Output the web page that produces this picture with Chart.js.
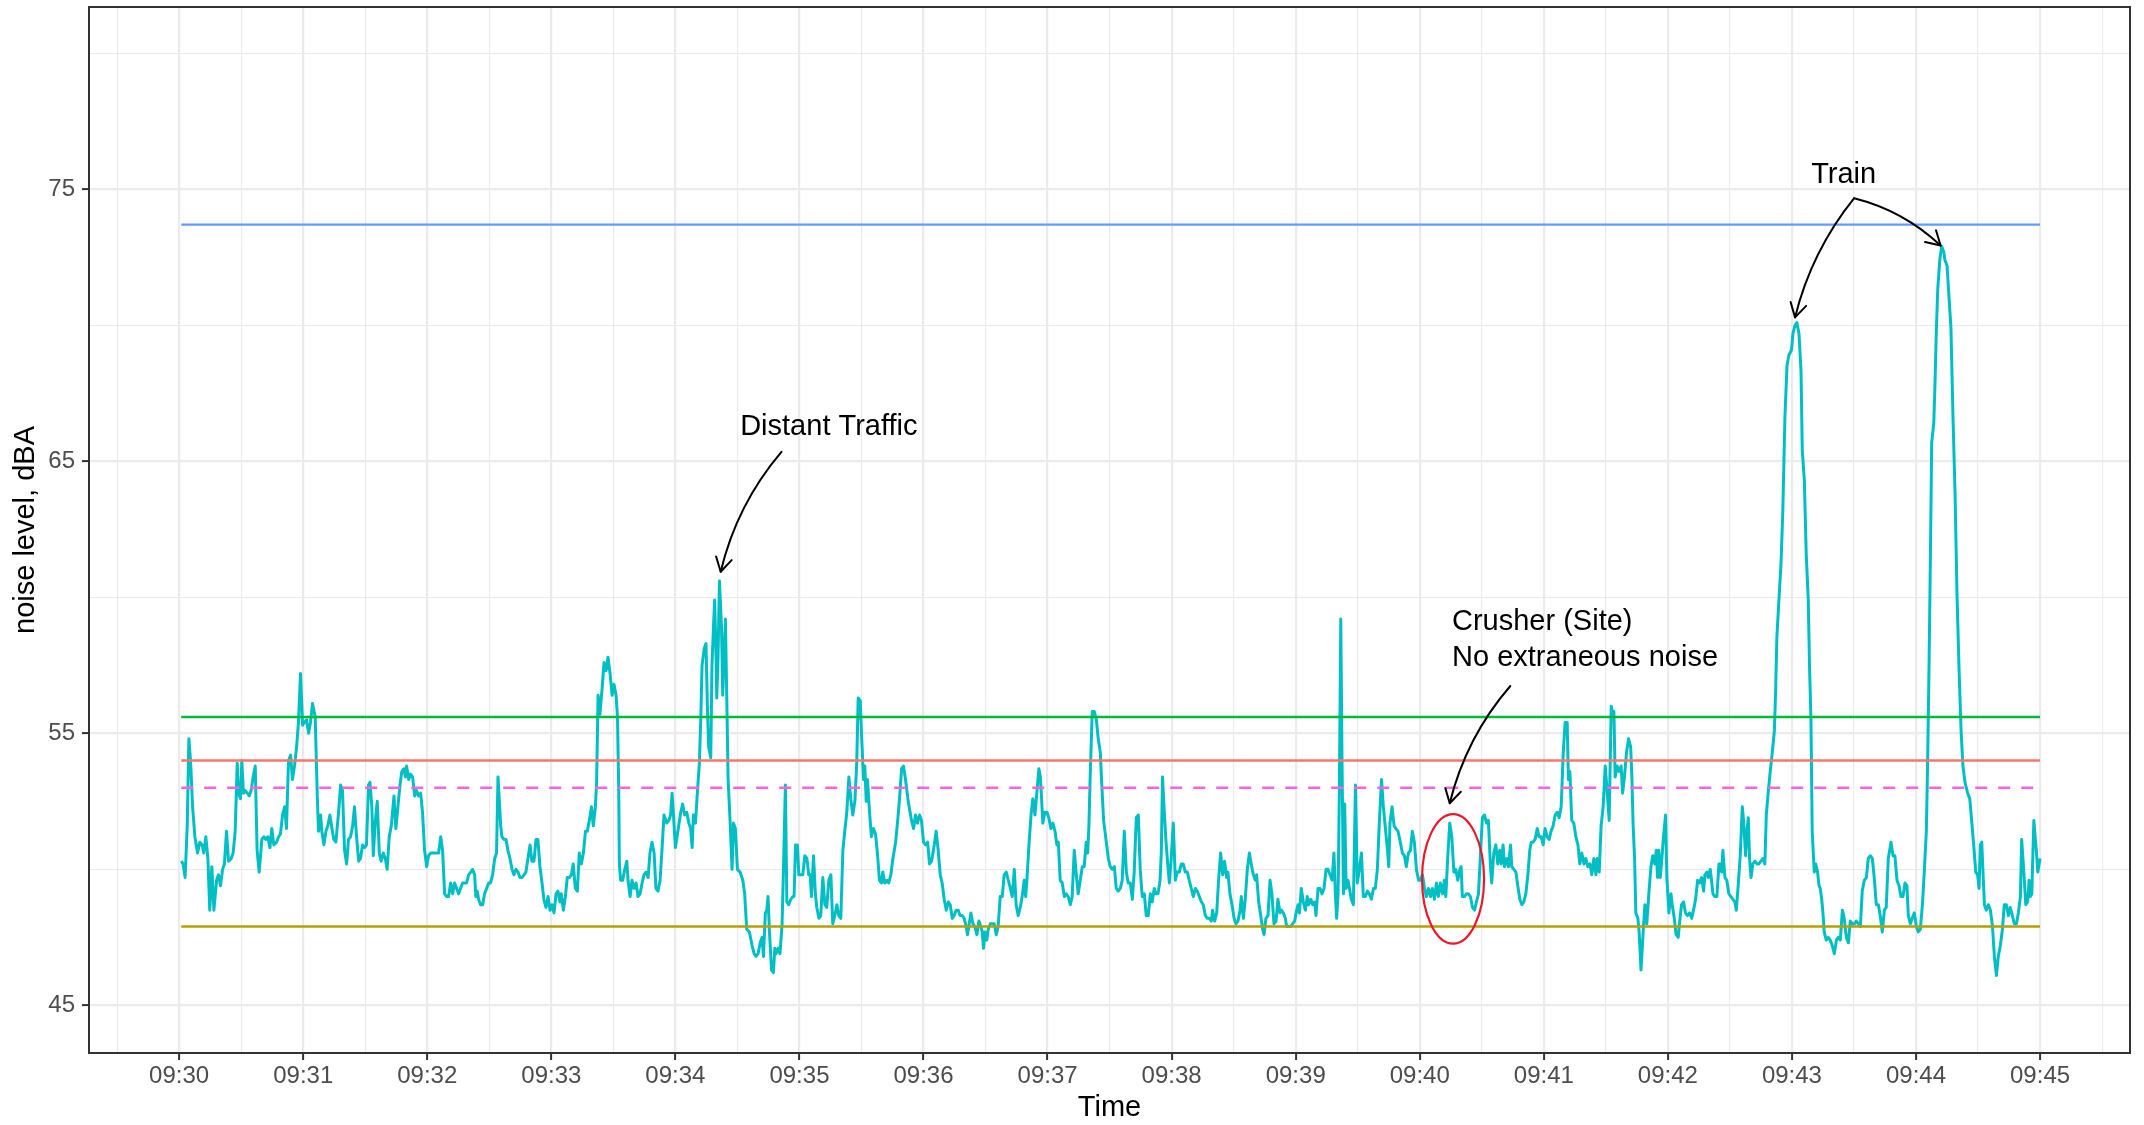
<!DOCTYPE html>
<html>
<head>
<meta charset="utf-8">
<script src="https://cdn.jsdelivr.net/npm/chart.js@4.4.1/dist/chart.umd.min.js"></script>
<style>
  html, body { margin: 0; padding: 0; background: #ffffff; }
  canvas { display: block; }
</style>
</head>
<body>
<canvas id="noiseChart" width="2144" height="1125"></canvas>
<script>
// Sound level log, 09:30–09:45. Each entry: [seconds after 09:30:00, level in dBA].
const log0930 = [[1,50.3],[1.9,50.2],[2.9,49.7],[3.9,51.6],[4.7,54.8],[5.5,54.0],[6.5,52.3],[7.6,51.2],[8.9,50.6],[10,51.0],[11.1,50.9],[11.9,50.6],[12.9,51.2],[13.9,50.4],[14.8,48.5],[15.8,50.1],[16.8,48.5],[18.1,49.6],[19,49.8],[20,49.4],[21,50.0],[21.9,50.2],[22.9,51.4],[23.9,50.3],[25.2,50.4],[26.1,50.6],[27.1,51.4],[28.1,53.9],[28.7,52.8],[29.7,52.6],[30.3,54.0],[31.1,52.8],[31.9,52.9],[32.9,52.8],[33.9,52.7],[34.8,52.9],[35.8,53.4],[36.8,53.8],[37.7,50.7],[38.7,49.9],[40,51.1],[41,51.2],[41.9,51.1],[42.9,51.2],[43.9,50.8],[44.8,51.5],[45.8,50.9],[47.1,51.0],[48.1,51.2],[49,51.3],[50,52.0],[51,52.3],[51.9,51.5],[52.9,54.0],[53.9,54.2],[54.8,53.3],[55.8,53.8],[56.8,54.5],[57.7,55.4],[58.7,57.2],[59.7,55.3],[60.6,55.4],[61.6,55.5],[62.6,55.0],[63.5,55.4],[64.5,56.1],[65.8,55.6],[66.8,52.7],[67.4,51.4],[68.4,52.0],[69,51.4],[70,50.9],[71,51.4],[71.9,51.6],[72.9,52.0],[73.9,51.5],[74.8,51.1],[75.8,51.0],[77.1,52.1],[78.1,53.1],[79,52.9],[80,50.7],[81,50.2],[81.9,51.1],[82.9,51.2],[83.9,51.6],[84.8,52.3],[85.8,51.2],[86.8,50.3],[87.7,50.4],[88.7,50.9],[89.7,50.8],[90.6,50.9],[91.6,53.1],[92.3,53.2],[93.2,52.3],[93.9,50.5],[94.8,51.7],[95.8,52.5],[96.8,50.6],[97.7,50.3],[98.7,50.6],[99.7,50.4],[100.6,50.0],[101.6,51.2],[102.6,51.6],[103.9,52.7],[104.8,51.5],[105.8,52.3],[106.8,53.1],[107.7,53.6],[108.7,53.7],[109.4,53.4],[110,53.8],[111,53.3],[111.9,53.5],[112.9,53.4],[113.9,52.7],[114.8,52.9],[115.8,52.7],[116.8,52.8],[117.7,52.1],[118.7,50.7],[119.7,50.1]];

const log0932 = [[120.6,50.5],[121.6,50.6],[122.6,50.6],[123.5,50.6],[124.5,50.6],[125.5,50.6],[126.5,51.2],[127.4,50.7],[128.4,49.1],[129.4,49.0],[130.3,49.0],[131.3,49.5],[132.3,49.1],[133.2,49.5],[134.2,49.3],[135.2,49.1],[136.1,49.3],[137.1,49.5],[138.1,49.5],[139,49.5],[140,49.8],[141,49.9],[141.9,50.0],[142.9,49.8],[143.5,49.0],[144.2,49.2],[144.8,48.9],[145.8,48.7],[146.8,48.7],[147.7,49.1],[148.7,49.3],[149.7,49.5],[150.6,49.5],[151.6,49.8],[152.6,50.4],[153.5,50.6],[154.2,53.4],[154.8,52.6],[155.5,51.6],[156.1,51.2],[157.1,51.1],[158.1,51.1],[159,50.7],[160,50.4],[161,50.0],[161.9,49.8],[162.9,50.0],[163.9,49.9],[164.8,49.7],[165.8,49.7],[166.8,49.8],[167.7,49.9],[168.7,50.4],[169.7,50.9],[170.6,50.3],[171.6,50.3],[172.6,51.1],[173.5,51.1],[174.5,50.1],[175.5,49.5],[176.4,48.9],[177.4,48.6],[178.4,49.0],[179.4,48.5],[180.3,48.7],[181.3,48.4],[182.3,49.1],[183.2,49.2],[184.2,48.8],[184.8,49.1],[185.8,48.5],[186.8,49.0],[187.7,49.7],[188.7,49.7],[189.7,49.8],[190.6,50.2],[191.6,49.3],[192.6,49.2],[193.5,50.6],[194.5,50.2],[195.5,50.6],[196.5,51.4],[197.4,51.4],[198.4,51.8],[199.4,52.3],[200.3,51.6],[201.3,52.3],[201.9,53.2],[202.6,56.4],[203.5,55.7],[204.5,56.6],[205.5,57.6],[206.5,57.3],[207.4,57.8],[208.4,57.2],[209.4,56.4],[210.3,56.8],[211.3,56.4],[212,55.6],[212.6,52.9],[212.9,50.2],[213.5,49.6],[214.5,49.6],[215.5,50.0],[216.5,50.3],[217.1,49.6],[218.1,49.0],[219,49.6],[220,49.3],[221,49.5],[221.9,49.0],[222.9,49.1],[223.9,49.5],[224.8,49.8],[225.8,49.9],[226.8,49.7],[227.7,50.6],[228.7,51.0],[229.7,50.6],[230.6,49.3],[231.6,49.2],[232.6,49.6],[233.5,50.7],[234.5,52.0]];

const log0934 = [[235.8,51.7],[236.8,51.8],[237.7,52.0],[238.4,52.8],[239,52.1],[240,50.8],[240.6,51.1],[241.6,51.6],[242.6,52.1],[243.5,52.4],[244.5,52.0],[245.5,52.1],[246.5,51.7],[247.4,51.5],[248.1,50.8],[248.7,52.0],[249.7,51.7],[250.6,52.8],[251.6,53.9],[252.3,55.6],[252.9,57.5],[253.9,58.1],[254.8,58.3],[255.5,55.9],[256.1,54.5],[257.1,54.1],[257.7,57.5],[258.4,58.9],[259,59.9],[259.7,57.7],[260,56.3],[260.6,57.7],[261.3,60.6],[262.3,58.9],[262.9,56.4],[263.5,57.7],[264.2,59.2],[264.8,56.5],[265.5,53.3],[266.5,51.7],[267.4,50.0],[268.1,51.7],[269,51.5],[270,50.0],[271.3,49.9],[272.6,49.6],[273.5,49.1],[274.5,47.8],[275.8,47.7],[277.1,47.2],[278.1,46.9],[279,46.8],[280,46.9],[281,47.3],[281.9,47.5],[282.6,46.8],[283.5,48.4],[284.2,48.5],[284.8,49.0],[285.5,47.7],[286.5,46.3],[287.4,46.2],[288.1,47.1],[288.7,46.9],[289.7,47.1],[290.6,46.9],[291.6,48.0],[292.3,50.1],[293.2,53.1],[293.9,48.8],[294.8,48.7],[295.8,48.9],[296.8,49.0],[297.4,49.0],[298.1,50.9],[299,50.9],[299.7,49.8],[300.6,49.8],[301.6,49.8],[302.6,50.5],[303.6,50.4],[304.5,49.8],[305.2,49.8],[305.8,49.0],[306.8,50.5],[307.7,49.1],[308.4,48.6],[309.4,48.2],[310.3,48.3],[311.3,49.7],[312.3,48.7],[313.2,48.6],[314.2,49.6],[315.2,49.8],[316.1,48.0],[317.1,48.3],[318.1,48.7],[319,48.3],[320,48.2],[321,50.7],[321.9,51.4],[322.9,52.1],[323.9,53.4],[324.8,52.6],[325.8,52.0],[326.8,52.5],[327.7,53.9],[328.4,56.3],[329.4,56.2],[330,55.0],[331,53.3],[331.6,53.8],[332.3,52.5],[332.9,53.3],[333.9,52.1],[334.8,51.2],[335.8,51.5],[336.8,51.3],[337.7,50.6],[338.7,49.6],[339.7,49.5],[340.3,49.9],[341.3,49.5],[342.3,49.6],[343.2,49.5],[344.2,49.8],[345.2,50.4],[346.5,51.0],[347.4,51.7],[348.4,52.6],[349.4,53.7],[350.3,53.8],[351.3,53.3],[352.6,52.5]];

const log0936 = [[354.2,51.8],[355.2,51.5],[356.1,52.0],[357.1,51.7],[358.1,52.0],[359,51.8],[360,51.0],[361,50.9],[362,51.0],[362.9,50.2],[363.9,50.3],[365.2,50.9],[366.1,51.4],[367.1,50.7],[368.1,49.8],[369,49.5],[370,48.9],[371,48.5],[372,48.8],[372.9,48.7],[373.9,48.2],[374.8,48.3],[375.8,48.5],[376.8,48.5],[377.7,48.3],[378.7,48.3],[379.7,48.2],[380.6,47.9],[381.3,47.6],[382.3,48.1],[382.9,48.4],[383.9,48.0],[384.8,47.9],[385.8,47.6],[386.8,48.1],[387.7,47.9],[388.4,47.7],[389,47.1],[389.7,47.7],[390.6,47.4],[391.3,47.8],[392.3,48.0],[393.2,48.0],[394.2,48.0],[395.2,47.6],[396.1,47.9],[397.1,49.0],[398.1,49.0],[399,49.8],[400,49.9],[401,49.6],[402,49.3],[402.9,49.0],[403.9,50.0],[404.8,48.7],[405.8,48.3],[406.8,48.6],[407.7,49.0],[408.7,49.6],[409.4,49.0],[410,49.6],[411,50.9],[412,52.0],[412.9,52.6],[413.9,52.0],[414.8,52.8],[415.8,53.7],[416.5,53.4],[417.1,52.6],[417.7,51.7],[418.7,52.1],[419.7,52.1],[420.6,51.9],[421.6,51.5],[422.6,51.7],[423.6,51.4],[424.5,50.9],[425.2,51.0],[426.1,49.6],[427.1,49.5],[428.1,49.0],[429,49.1],[430,49.0],[431,48.7],[431.9,49.0],[432.9,50.7],[433.9,49.8],[434.8,49.1],[435.8,49.6],[436.8,50.1],[437.7,50.1],[438.7,51.0],[439.4,50.6],[440,51.6],[440.6,53.4],[441.6,55.8],[442.6,55.8],[443.6,55.5],[444.5,54.8],[445.5,54.3],[446.1,53.3],[447.1,51.8],[448.4,51.0],[449.4,50.4],[450.3,50.1],[451.3,50.0],[452.3,50.1],[453.2,49.3],[454.2,49.2],[455.2,49.3],[456.1,49.6],[457.1,51.4],[458.1,49.9],[459,49.5],[460,49.5],[461,48.9],[461.9,49.9],[462.9,51.9],[463.9,52.0],[464.8,50.0],[465.8,49.0],[466.8,49.1],[467.7,48.3],[468.7,48.3],[469.7,49.1],[470.6,48.8],[471.6,49.3]];

const log0938 = [[472.4,49.1],[473.4,49.1],[474.4,49.6],[475,50.6],[475.6,53.4],[476.3,52.3],[477.3,51.0],[478.2,50.1],[478.9,49.5],[479.8,50.4],[480.8,51.7],[481.8,49.6],[482.7,49.9],[483.7,49.9],[484.7,50.2],[485.6,50.2],[486.6,49.9],[487.6,49.9],[488.5,49.6],[489.5,49.3],[490.5,49.0],[491.5,49.3],[492.4,49.2],[493.4,49.0],[494.4,48.8],[495.3,48.7],[496.3,48.3],[497.3,48.2],[498.2,48.2],[499.2,48.1],[499.8,48.5],[500.8,48.1],[501.8,48.4],[502.7,49.6],[503.7,50.6],[504.7,49.8],[505.6,50.3],[506.6,49.7],[507.2,49.9],[508.2,49.1],[509.2,48.7],[510.2,48.2],[511.1,48.0],[512.1,48.1],[513.1,48.5],[513.7,49.0],[514.7,48.2],[515.6,48.9],[516.6,50.0],[517.6,50.6],[518.5,50.2],[519.5,49.8],[520.5,49.6],[521.1,49.8],[522.1,48.8],[523.1,48.3],[524,47.8],[524.7,47.6],[525.6,48.2],[526.6,48.3],[527.6,49.6],[528.5,49.1],[529.5,48.0],[530.5,48.1],[531.4,48.9],[532.4,48.4],[533.1,48.5],[534,48.4],[535,48.2],[535.6,47.9],[536.6,47.9],[537.6,47.9],[538.5,48.0],[539.5,48.1],[540.2,48.4],[541.1,48.7],[541.8,48.4],[542.7,49.3],[543.7,48.8],[544.7,48.5],[545.6,49.0],[546.3,48.7],[547.3,48.9],[548.2,48.7],[549.2,48.8],[549.8,48.3],[550.8,49.3],[551.8,49.3],[552.7,49.1],[553.7,49.3],[554.7,50.0],[555.6,50.0],[556.6,49.8],[557.6,49.6],[558.5,50.6],[559.2,49.1],[559.8,48.2],[560.5,49.1],[561.1,52.8],[561.8,59.2],[562.4,54.0],[563.1,49.1],[563.7,52.4],[564.4,49.3],[565.3,49.6],[566,49.3],[566.9,48.9],[567.9,48.7],[568.9,53.1],[569.8,49.5],[570.8,50.0],[571.8,50.6],[572.7,49.0],[573.7,49.0],[574.7,49.2],[575.6,49.1],[576.6,48.9],[577.6,49.3],[578.5,49.3],[579.5,50.0],[580.5,51.8],[581.5,53.3],[582.4,52.3],[583.4,51.5],[584.4,50.7],[585,50.1],[585.6,51.7],[586.6,52.3],[587.6,51.6],[588.5,51.5],[589.5,51.4]];

const log0940 = [[590.6,51.0],[591.6,50.6],[592.6,50.5],[593.5,50.1],[594.5,50.6],[595.5,50.7],[596.4,51.4],[597.4,51.0],[598.4,50.0],[599.4,49.6],[600.3,49.6],[601.3,49.8],[602.3,49.3],[603.2,49.0],[604.2,49.3],[605.2,49.0],[606.1,49.3],[607.1,48.9],[608.1,49.5],[609,49.0],[610,49.5],[611,49.1],[611.9,49.6],[612.6,49.0],[613.5,50.4],[614.5,51.7],[615.5,51.2],[616.5,49.9],[617.4,50.0],[618.4,49.6],[619.4,50.0],[620,50.1],[620.6,49.0],[621.6,49.0],[622.6,49.1],[623.5,49.1],[624.5,49.0],[625.5,48.6],[626.5,48.5],[627.4,48.8],[628.4,49.1],[629.4,50.6],[630.3,51.9],[631.3,52.0],[632.3,51.7],[633.2,51.8],[634.2,50.1],[634.8,49.5],[635.8,50.6],[636.8,50.9],[637.7,50.2],[638.7,50.7],[639.4,50.2],[640.3,50.9],[641,50.1],[642.2,50.4],[642.9,50.1],[643.9,50.9],[644.5,50.1],[645.5,50.0],[646.5,49.9],[647.4,49.4],[648.4,48.9],[649.4,48.7],[650.3,48.8],[651.3,49.1],[652.3,49.8],[653.2,50.7],[653.9,51.0],[654.8,51.0],[655.8,51.1],[656.8,51.5],[657.7,51.2],[658.7,51.2],[659.7,50.9],[660.6,51.5],[661.6,51.2],[662.6,51.1],[663.5,51.4],[664.5,51.6],[665.5,52.0],[666.5,52.1],[667.4,51.9],[668.4,52.3],[669.4,54.3],[670.3,55.4],[671.3,55.4],[671.9,53.3],[672.6,53.6],[673.5,51.8],[674.5,51.7],[675.5,51.2],[676.5,50.9],[677.4,50.2],[678.4,50.6],[679.4,50.2],[680.3,50.4],[681.3,50.1],[682.3,50.2],[683.2,49.8],[684.2,50.4],[685.2,49.8],[685.8,50.4],[686.8,49.9],[687.7,51.6],[688.7,52.3],[689.7,53.8],[690.6,52.9],[691.6,51.8],[692.6,56.0],[693.2,55.8],[693.9,55.8],[694.5,53.4],[695.5,53.8],[696.4,53.6],[697.4,53.8],[698.1,52.8],[699,53.4],[700,54.3],[701,54.8],[702,54.5],[702.6,53.4],[703.2,51.6],[703.9,50.4],[704.5,48.4],[705.5,48.2],[706.1,47.7],[707,46.3],[708.2,47.9],[708.9,48.7],[709.8,48.0],[710.8,49.1],[711.8,50.1],[712.7,50.5],[713.7,50.2],[714.4,50.7],[715,49.7],[715.6,50.7],[716.3,49.7],[716.9,50.2],[717.9,51.2],[718.9,52.0],[719.5,49.7]];

const log0942 = [[720.5,48.4],[721.5,49.1],[722.1,48.7],[723.1,48.2],[724,47.6],[725,47.5],[725.6,48.0],[726.6,48.7],[727.6,48.8],[728.5,48.4],[729.5,48.3],[730.5,48.4],[731.5,48.2],[732.4,48.5],[733.4,48.9],[734.4,49.6],[735.3,49.5],[736.3,49.7],[737.3,49.2],[737.9,49.8],[738.9,49.9],[739.5,49.7],[740.5,50.0],[741.1,49.6],[741.8,49.1],[742.7,49.0],[743.7,49.0],[744.7,50.2],[745.3,50.2],[746,49.9],[746.6,50.7],[747.6,49.7],[748.5,49.6],[749.5,49.1],[750.5,49.0],[751.5,48.9],[752.4,48.8],[753.1,48.5],[754,49.4],[755,50.5],[756,52.3],[756.6,51.8],[757.6,50.5],[758.2,51.4],[758.9,51.9],[759.5,50.4],[760.2,49.7],[761.1,50.2],[762.1,50.3],[763.1,50.2],[764,50.2],[765,50.3],[766,50.4],[766.9,50.2],[767.6,52.0],[768.5,52.8],[769.5,53.6],[770.5,54.3],[771.5,55.1],[772.1,56.5],[772.7,58.5],[773.7,59.9],[774.7,61.2],[775.6,63.2],[776.6,66.6],[777.6,68.5],[778.5,68.9],[779.8,69.1],[780.5,69.7],[781.5,70.0],[782.4,70.1],[783.4,69.7],[784.4,68.3],[785,65.4],[786,64.3],[786.9,61.6],[787.9,59.9],[788.5,57.5],[789.2,55.5],[789.8,51.4],[790.8,49.9],[791.5,50.2],[792.4,49.9],[793.1,49.4],[793.7,49.3],[794.4,48.9],[795,48.4],[795.6,47.7],[796.6,47.4],[797.6,47.5],[798.5,47.4],[799.5,47.2],[800.5,46.9],[801.5,47.4],[802.4,47.5],[803.4,47.4],[804.4,48.5],[805.3,48.2],[806.3,47.5],[807.3,47.3],[808.2,48.1],[809.2,48.0],[810.2,48.0],[811.1,48.1],[812.1,48.0],[813.1,47.9],[814,49.2],[815,49.6],[816,49.7],[816.9,50.4],[817.9,50.5],[818.9,50.4],[819.8,49.7],[820.8,48.7],[821.8,48.7],[822.7,48.3],[823.7,47.7],[824.7,48.5],[825.6,48.6],[826.6,50.4],[827.9,51.0],[828.9,50.5],[829.8,50.5],[830.8,49.6],[831.8,49.4],[832.7,49.0],[833.7,49.0],[834.7,49.5],[835.6,49.4],[836.3,48.3],[837.3,48.0],[838.2,48.2],[839.2,48.4]];

const log0944 = [[840.2,47.9],[841.1,47.7],[842.1,47.8],[843.1,48.7],[844,49.9],[845,51.4],[845.6,53.8],[846.3,57.4],[846.9,61.1],[847.6,65.7],[848.6,66.4],[849.2,67.9],[849.8,69.7],[850.5,71.3],[851.5,72.4],[852.4,72.9],[853.4,72.7],[854,72.4],[855,72.2],[856,71.0],[856.9,69.9],[857.9,66.6],[858.9,63.8],[859.8,60.2],[860.8,57.4],[861.8,55.1],[862.7,53.8],[863.7,53.2],[865,52.8],[866,52.6],[866.9,51.8],[867.9,50.9],[868.9,49.9],[869.8,49.8],[870.5,49.3],[871.1,50.9],[871.8,51.0],[872.4,49.9],[873.1,48.7],[874,48.5],[875,48.7],[876,48.5],[877,47.9],[877.9,46.8],[878.9,46.1],[879.8,46.8],[880.8,47.2],[881.8,47.8],[882.7,48.7],[883.7,48.7],[884.7,48.3],[885.6,48.6],[886.6,48.3],[887.6,48.0],[888.6,48.0],[889.5,48.4],[890.5,49.0],[891.1,51.1],[891.8,50.3],[892.4,49.6],[893.1,48.7],[894,48.8],[894.7,49.6],[895.3,49.0],[896,49.1],[897,51.8],[897.6,51.2],[898.2,50.7],[898.9,49.9],[900,50.4]];

// Horizontal reference levels (dBA), drawn across the logging period.
const levelMax   = 73.7;
const levelL10   = 55.6;
const levelLeq   = 54.0;
const levelL50   = 53.0;
const levelL90   = 47.9;

// Axis labels
const minuteLabels = ['09:30','09:31','09:32','09:33','09:34','09:35','09:36','09:37',
                      '09:38','09:39','09:40','09:41','09:42','09:43','09:44','09:45'];
const levelTickLabels = { 45: '45', 55: '55', 65: '65', 75: '75' };

// Text notes and arrows, placed in data units (seconds after 09:30, dBA)
const noteTexts = [
  { lines: ['Distant Traffic'], x: 314.2, y: 65.97, align: 'center' },
  { lines: ['Crusher (Site)', 'No extraneous noise'], x: 615.6, y: 58.80, align: 'left' },
  { lines: ['Train'], x: 805.0, y: 75.23, align: 'center' }
];
const noteArrows = [
  { from: [291.3, 65.35], to: [261.9, 60.94], bend: 0.12 },
  { from: [643.8, 56.74], to: [614.5, 52.43], bend: 0.12 },
  { from: [810.1, 74.67], to: [781.5, 70.29], bend: 0.11 },
  { from: [810.1, 74.67], to: [851.9, 72.93], bend: -0.13 }
];
const noteRing = { x: 616.1, y: 49.65, rx: 15.0, ry: 2.38 };

// ---------------------------------------------------------------------------
const FONT = '"Liberation Sans", Arial, Helvetica, sans-serif';
const seriesPoints = [].concat(log0930, log0932, log0934, log0936, log0938, log0940, log0942, log0944)
  .map(([x, y]) => ({ x, y }));
const tStart = seriesPoints[0].x;
const tEnd = seriesPoints[seriesPoints.length - 1].x;
const flat = v => [{ x: tStart, y: v }, { x: tEnd, y: v }];

const xGridValues = [];
for (let s = -30; s <= 930; s += 30) xGridValues.push(s);
const yGridValues = [45, 50, 55, 60, 65, 70, 75, 80];

const refStyle = (color, dash) => ({
  borderColor: color, borderWidth: 2.4, borderDash: dash || [],
  pointRadius: 0, tension: 0, order: 0, borderCapStyle: 'butt'
});

const notesPlugin = {
  id: 'notes',
  afterDatasetsDraw(chart) {
    const { ctx, scales: { x, y } } = chart;
    const px = v => x.getPixelForValue(v);
    const py = v => y.getPixelForValue(v);
    ctx.save();

    // curved arrows with open heads
    ctx.strokeStyle = '#000000';
    ctx.lineWidth = 2;
    ctx.lineCap = 'round';
    ctx.lineJoin = 'round';
    noteArrows.forEach(a => {
      const x0 = px(a.from[0]), y0 = py(a.from[1]);
      const x1 = px(a.to[0]), y1 = py(a.to[1]);
      const dx = x1 - x0, dy = y1 - y0;
      const cx = (x0 + x1) / 2 + (-dy) * a.bend;
      const cy = (y0 + y1) / 2 + (dx) * a.bend;
      ctx.beginPath();
      ctx.moveTo(x0, y0);
      ctx.quadraticCurveTo(cx, cy, x1, y1);
      ctx.stroke();
      const ang = Math.atan2(y1 - cy, x1 - cx);
      const head = 16, spread = Math.PI / 6;
      ctx.beginPath();
      ctx.moveTo(x1 - head * Math.cos(ang - spread), y1 - head * Math.sin(ang - spread));
      ctx.lineTo(x1, y1);
      ctx.lineTo(x1 - head * Math.cos(ang + spread), y1 - head * Math.sin(ang + spread));
      ctx.stroke();
    });

    // ring around the crusher interval
    const ex = px(noteRing.x), ey = py(noteRing.y);
    const erx = Math.abs(px(noteRing.x + noteRing.rx) - ex);
    const ery = Math.abs(py(noteRing.y + noteRing.ry) - ey);
    ctx.strokeStyle = '#E8192C';
    ctx.lineWidth = 2.2;
    ctx.beginPath();
    ctx.ellipse(ex, ey, erx, ery, 0, 0, Math.PI * 2);
    ctx.stroke();

    // note text
    ctx.fillStyle = '#000000';
    ctx.font = '29px ' + FONT;
    ctx.textBaseline = 'alphabetic';
    noteTexts.forEach(t => {
      ctx.textAlign = t.align;
      t.lines.forEach((line, i) => ctx.fillText(line, px(t.x), py(t.y) + i * 36));
    });
    ctx.restore();
  },
  afterDraw(chart) {
    const { ctx, chartArea: a } = chart;
    ctx.save();
    ctx.strokeStyle = '#333333';
    ctx.lineWidth = 2;
    ctx.strokeRect(a.left, a.top, a.right - a.left, a.bottom - a.top);
    ctx.restore();
  }
};

Chart.defaults.font.family = FONT;

new Chart(document.getElementById('noiseChart').getContext('2d'), {
  type: 'line',
  data: {
    datasets: [
      Object.assign({ label: 'max', data: flat(levelMax) }, refStyle('#619CFF')),
      Object.assign({ label: 'L10', data: flat(levelL10) }, refStyle('#00BA38')),
      Object.assign({ label: 'Leq', data: flat(levelLeq) }, refStyle('#F8766D')),
      Object.assign({ label: 'L50', data: flat(levelL50) }, refStyle('#F564E3', [12, 11])),
      Object.assign({ label: 'L90', data: flat(levelL90) }, refStyle('#B79F00')),
      {
        label: 'noise level', data: seriesPoints,
        borderColor: '#00BFC4', borderWidth: 3, pointRadius: 0, tension: 0,
        borderJoinStyle: 'round', order: 1
      }
    ]
  },
  options: {
    responsive: false,
    animation: false,
    devicePixelRatio: 1,
    parsing: false,
    layout: { padding: { left: 0, right: 14, top: 7, bottom: 0 } },
    plugins: { legend: { display: false }, tooltip: { enabled: false } },
    scales: {
      x: {
        type: 'linear',
        min: -43.6,
        max: 943.5,
        afterBuildTicks: s => { s.ticks = xGridValues.map(v => ({ value: v })); },
        afterFit: s => { s.height = 72; s.paddingLeft = 0; s.paddingRight = 0; },
        border: { display: false },
        grid: {
          color: '#EBEBEB',
          lineWidth: c => (c.tick && c.tick.value % 60 === 0) ? 2.2 : 1.1,
          drawTicks: true,
          tickLength: 7,
          tickWidth: 2,
          tickColor: c => (c.tick && c.tick.value % 60 === 0 && c.tick.value >= 0 && c.tick.value <= 900) ? '#333333' : 'rgba(0,0,0,0)'
        },
        ticks: {
          autoSkip: false,
          maxRotation: 0,
          minRotation: 0,
          padding: 2,
          color: '#4D4D4D',
          font: { size: 24, family: FONT },
          callback: v => (v % 60 === 0 && v >= 0 && v <= 900) ? minuteLabels[v / 60] : ''
        },
        title: {
          display: true, text: 'Time', color: '#000000',
          font: { size: 29, family: FONT },
          padding: { top: 0, bottom: 0 }
        }
      },
      y: {
        type: 'linear',
        min: 43.25,
        max: 81.7,
        afterBuildTicks: s => { s.ticks = yGridValues.map(v => ({ value: v })); },
        afterFit: s => { s.width = 89; s.paddingTop = 0; s.paddingBottom = 0; },
        border: { display: false },
        grid: {
          color: '#EBEBEB',
          lineWidth: c => (c.tick && c.tick.value % 10 === 5) ? 2.2 : 1.1,
          drawTicks: true,
          tickLength: 7,
          tickWidth: 2,
          tickColor: c => (c.tick && c.tick.value % 10 === 5) ? '#333333' : 'rgba(0,0,0,0)'
        },
        ticks: {
          autoSkip: false,
          padding: 7,
          color: '#4D4D4D',
          font: { size: 24, family: FONT },
          callback: v => levelTickLabels[v] || ''
        },
        title: {
          display: true, text: 'noise level, dBA', color: '#000000',
          font: { size: 29, family: FONT },
          padding: { top: 9, bottom: 0 }
        }
      }
    }
  },
  plugins: [notesPlugin]
});
</script>
</body>
</html>
